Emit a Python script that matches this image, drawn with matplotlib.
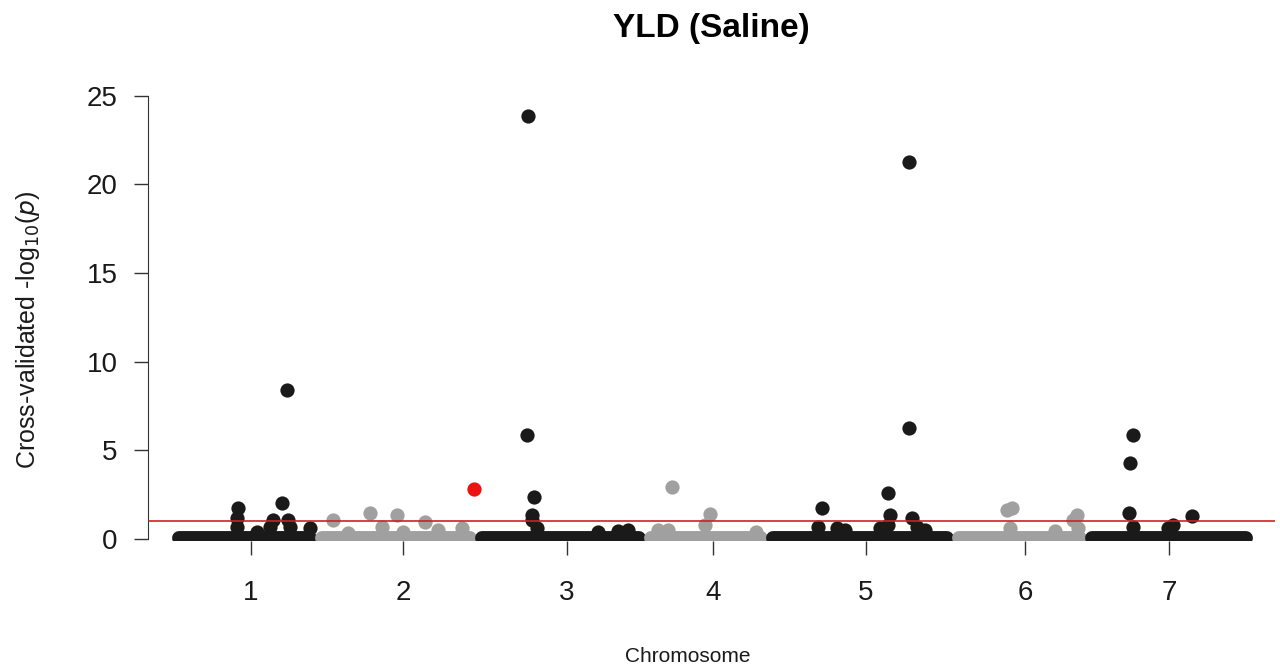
import matplotlib
matplotlib.use("Agg")
import matplotlib.pyplot as plt

plt.rcParams['font.family'] = ['Liberation Sans', 'DejaVu Sans']

# --- data (x = cumulative position, y = cross-validated -log10 p) ---
chrom_labels = ["1", "2", "3", "4", "5", "6", "7"]
chrom_ticks = [103, 255, 419, 565, 718, 877, 1021]
# first / last marker position of each chromosome (the dense baseline band)
chrom_first = [31, 174, 334, 503, 625, 811, 944]
chrom_last = [162, 322, 491, 613, 799, 932, 1098]
baseline_level = 0.05

chr1_x = [90, 89, 89, 139, 134, 125, 140, 122, 142, 109, 162]
chr1_y = [1.75, 1.2, 0.7, 8.4, 2.03, 1.07, 1.07, 0.7, 0.7, 0.4, 0.6]
chr2_x = [185, 222, 249, 234, 255, 277, 290, 314, 200]
chr2_y = [1.07, 1.47, 1.35, 0.7, 0.4, 0.96, 0.5, 0.6, 0.35]
chr3_x = [380, 379, 386, 384, 384, 389, 450, 470, 480]
chr3_y = [23.87, 5.84, 2.37, 1.35, 1.07, 0.6, 0.4, 0.45, 0.5]
chr4_x = [524, 562, 557, 510, 520, 608]
chr4_y = [2.93, 1.4, 0.8, 0.5, 0.5, 0.4]
chr5_x = [674, 670, 689, 697, 740, 742, 740, 732, 761, 761, 764, 769, 777]
chr5_y = [1.75, 0.7, 0.6, 0.5, 2.6, 1.35, 0.8, 0.6, 21.27, 6.26, 1.2, 0.7, 0.5]
chr6_x = [864, 859, 929, 925, 862, 907, 930]
chr6_y = [1.75, 1.65, 1.35, 1.1, 0.6, 0.45, 0.6]
chr7_x = [985, 982, 981, 985, 1044, 1025, 1020]
chr7_y = [5.87, 4.28, 1.47, 0.7, 1.3, 0.8, 0.6]

highlight_x = [326]
highlight_y = [2.8]

threshold = 1.0

chrom_x = [chr1_x, chr2_x, chr3_x, chr4_x, chr5_x, chr6_x, chr7_x]
chrom_y = [chr1_y, chr2_y, chr3_y, chr4_y, chr5_y, chr6_y, chr7_y]
colors = ["#1a1a1a", "#a0a0a0"]

# --- plot ---
fig = plt.figure(figsize=(12.8, 6.72), dpi=100)
ax = fig.add_axes([148 / 1280, 1 - 541 / 672, (1275 - 148) / 1280, (541 - 78) / 672])

dot = 105
for i in range(len(chrom_labels)):
    col = colors[i % 2]
    ax.hlines(baseline_level, chrom_first[i], chrom_last[i], color=col,
              linewidth=10, capstyle="round", zorder=2)
    ax.scatter(chrom_x[i], chrom_y[i], s=dot, color=col, linewidths=0, zorder=3)

ax.scatter(highlight_x, highlight_y, s=dot, color="#ee1111", linewidths=0, zorder=4)
ax.axhline(threshold, color="#d02020", linewidth=1.2, zorder=5)

ax.set_xlim(0, 1127)
ax.set_ylim(-0.11, 26.0)

for s in ["top", "right", "bottom"]:
    ax.spines[s].set_visible(False)
ax.spines["left"].set_bounds(0, 25)
ax.spines["left"].set_color("#333333")

ax.set_yticks([0, 5, 10, 15, 20, 25])
ax.set_xticks(chrom_ticks)
ax.set_xticklabels(chrom_labels)
ax.tick_params(axis="both", length=10, width=1, color="#333333",
               labelsize=20, labelcolor="#1a1a1a")
ax.tick_params(axis="x", pad=18)
ax.tick_params(axis="y", pad=12)

fig.text(28 / 1280, 1 - 330 / 672, "Cross-validated -log$_{10}$($\\it{p}$)",
         rotation=90, ha="center", va="center", fontsize=18, color="#1a1a1a")
fig.text(688 / 1280, 1 - 657 / 672, "Chromosome", ha="center", va="center",
         fontsize=15, color="#1a1a1a")
fig.text(711 / 1280, 1 - 29 / 672, "YLD (Saline)", ha="center", va="center",
         fontsize=24, fontweight="bold")

plt.savefig("out.png", dpi=100)
